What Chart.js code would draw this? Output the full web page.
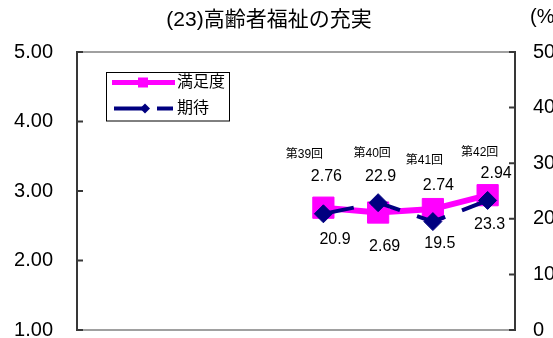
<!DOCTYPE html>
<html>
<head>
<meta charset="utf-8">
<script src="https://cdn.jsdelivr.net/npm/chart.js@4.4.0/dist/chart.umd.min.js"></script>
<style>
  html, body { margin: 0; padding: 0; overflow: hidden; background: #fff; }
  canvas { display: block; }
</style>
</head>
<body>
<canvas id="chart" width="575" height="338"></canvas>
<script>
// Data
const categories = ['', '', '', '', '第39回', '第40回', '第41回', '第42回'];
const satisfaction = [null, null, null, null, 2.76, 2.69, 2.74, 2.94];
const expectation = [null, null, null, null, 20.9, 22.9, 19.5, 23.3];
const leftTicks = [1, 2, 3, 4, 5];
const rightTicks = [0, 10, 20, 30, 40, 50];
const titleText = '(23)高齢者福祉の充実';
const seriesNames = ['満足度', '期待'];

// Label placement, relative to each point (px)
const satOffsets = [[3, -31], [6.5, 34], [5.5, -23.6], [8.5, -22]];
const expOffsets = [[11.6, 26], [2.5, -26], [7, 22], [2, 24.5]];
const roundOffsets = [[-19, -52.7], [-6, -59], [-8.5, -48.6], [-8, -42]];

const FONT = '"Liberation Sans", "Noto Sans CJK JP", sans-serif';
const MAGENTA = '#FF00FF';
const NAVY = '#000080';

Chart.defaults.font.family = FONT;
Chart.defaults.color = '#000';

const framePlugin = {
    id: 'frame',
    beforeDatasetsDraw(chart) {
        const { ctx, chartArea: a } = chart;
        ctx.save();
        ctx.lineWidth = 2;
        ctx.strokeStyle = '#a0a0a0';
        ctx.beginPath();
        ctx.moveTo(a.left, a.top); ctx.lineTo(a.right, a.top);
        ctx.moveTo(a.left, a.bottom); ctx.lineTo(a.right, a.bottom);
        ctx.stroke();
        ctx.strokeStyle = '#383838';
        ctx.beginPath();
        ctx.moveTo(a.left, a.top - 1); ctx.lineTo(a.left, a.bottom + 1);
        ctx.moveTo(a.right, a.top - 1); ctx.lineTo(a.right, a.bottom + 1);
        // inward tick marks
        leftTicks.forEach(v => {
            const y = chart.scales.y.getPixelForValue(v);
            ctx.moveTo(a.left, y); ctx.lineTo(a.left + 6, y);
        });
        rightTicks.forEach(v => {
            const y = chart.scales.y2.getPixelForValue(v);
            ctx.moveTo(a.right - 6, y); ctx.lineTo(a.right, y);
        });
        ctx.stroke();
        ctx.restore();
    }
};

const labelsPlugin = {
    id: 'labels',
    afterDatasetsDraw(chart) {
        const { ctx } = chart;
        const satMeta = chart.getDatasetMeta(1);
        const expMeta = chart.getDatasetMeta(0);
        ctx.save();
        ctx.fillStyle = '#000';
        ctx.textAlign = 'center';
        ctx.textBaseline = 'middle';
        let k = 0;
        satisfaction.forEach((v, i) => {
            if (v === null) return;
            const p = satMeta.data[i];
            ctx.font = '16px ' + FONT;
            ctx.fillText(v.toFixed(2), p.x + satOffsets[k][0], p.y + satOffsets[k][1]);
            ctx.font = '12px ' + FONT;
            ctx.fillText(categories[i], p.x + roundOffsets[k][0], p.y + roundOffsets[k][1]);
            k++;
        });
        k = 0;
        ctx.font = '16px ' + FONT;
        expectation.forEach((v, i) => {
            if (v === null) return;
            const p = expMeta.data[i];
            ctx.fillText(v.toFixed(1), p.x + expOffsets[k][0], p.y + expOffsets[k][1]);
            k++;
        });
        ctx.restore();
    },
    afterDraw(chart) {
        const { ctx } = chart;
        ctx.save();
        ctx.fillStyle = '#000';
        ctx.textBaseline = 'middle';
        ctx.textAlign = 'center';
        ctx.font = '21px ' + FONT;
        ctx.fillText(titleText, 269, 20);
        ctx.textAlign = 'left';
        ctx.font = '20px ' + FONT;
        ctx.fillText('(%)', 530, 17);

        // legend box
        ctx.strokeStyle = '#000';
        ctx.lineWidth = 1;
        ctx.strokeRect(106.5, 72.5, 123, 48.5);

        ctx.strokeStyle = MAGENTA;
        ctx.lineWidth = 5;
        ctx.beginPath();
        ctx.moveTo(112, 82.5); ctx.lineTo(175, 82.5);
        ctx.stroke();
        ctx.fillStyle = MAGENTA;
        ctx.fillRect(138, 77.5, 10, 10);

        ctx.strokeStyle = NAVY;
        ctx.lineWidth = 4;
        ctx.setLineDash([30, 13]);
        ctx.beginPath();
        ctx.moveTo(114, 108.5); ctx.lineTo(173, 108.5);
        ctx.stroke();
        ctx.setLineDash([]);
        ctx.fillStyle = NAVY;
        ctx.beginPath();
        ctx.moveTo(140, 108.5); ctx.lineTo(145, 103.5);
        ctx.lineTo(150, 108.5); ctx.lineTo(145, 113.5);
        ctx.closePath();
        ctx.fill();

        ctx.fillStyle = '#000';
        ctx.font = '16px ' + FONT;
        ctx.fillText(seriesNames[0], 177, 83);
        ctx.fillText(seriesNames[1], 177, 109);
        ctx.restore();
    }
};

function fixWidth(w) {
    return scale => {
        scale.width = w;
        scale.paddingTop = 0;
        scale.paddingBottom = 0;
    };
}

new Chart(document.getElementById('chart'), {
    type: 'line',
    data: {
        labels: categories,
        datasets: [
            {
                label: seriesNames[1],
                data: expectation,
                yAxisID: 'y2',
                borderColor: NAVY,
                backgroundColor: NAVY,
                borderWidth: 4,
                borderDash: [30, 18],
                borderDashOffset: 47,
                pointStyle: 'rectRot',
                pointRadius: 9,
                pointBorderWidth: 1,
                pointBorderColor: NAVY,
                pointBackgroundColor: NAVY,
                tension: 0
            },
            {
                label: seriesNames[0],
                data: satisfaction,
                yAxisID: 'y',
                borderColor: MAGENTA,
                backgroundColor: MAGENTA,
                borderWidth: 6,
                pointStyle: 'rect',
                pointRadius: 15,
                pointBorderWidth: 1,
                pointBorderColor: MAGENTA,
                pointBackgroundColor: MAGENTA,
                tension: 0
            }
        ]
    },
    options: {
        responsive: false,
        animation: false,
        layout: { autoPadding: false, padding: { top: 52, left: 0, right: 0, bottom: 0 } },
        plugins: {
            legend: { display: false },
            title: { display: false },
            tooltip: { enabled: false }
        },
        scales: {
            x: {
                offset: true,
                grid: { display: false },
                border: { display: false },
                ticks: { display: false },
                afterFit: scale => { scale.height = 8; }
            },
            y: {
                position: 'left',
                min: 1,
                max: 5,
                grid: { display: false, drawTicks: false },
                border: { display: false },
                afterBuildTicks: scale => { scale.ticks = leftTicks.map(v => ({ value: v })); },
                ticks: {
                    padding: 24,
                    font: { size: 20 },
                    color: '#000',
                    callback: v => v.toFixed(2)
                },
                afterFit: fixWidth(77)
            },
            y2: {
                position: 'right',
                min: 0,
                max: 50,
                grid: { display: false, drawTicks: false },
                border: { display: false },
                afterBuildTicks: scale => { scale.ticks = rightTicks.map(v => ({ value: v })); },
                ticks: {
                    padding: 18,
                    font: { size: 20 },
                    color: '#000',
                    callback: v => String(v)
                },
                afterFit: fixWidth(60)
            }
        }
    },
    plugins: [framePlugin, labelsPlugin]
});
</script>
</body>
</html>
